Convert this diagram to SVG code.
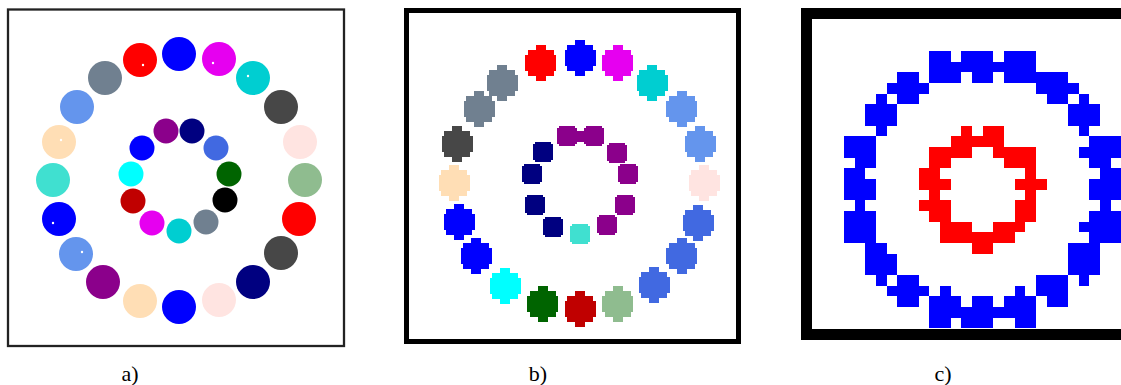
<svg xmlns="http://www.w3.org/2000/svg" xmlns:xlink="http://www.w3.org/1999/xlink" width="1121" height="385" viewBox="0 0 1121 385">
<style>
.lbl{font-family:"Liberation Serif","DejaVu Serif",serif;font-size:22px;fill:#000;text-anchor:middle}
.px{shape-rendering:crispEdges}
</style>
<defs>
<path id="ob" d="M-5.2,-18H5.2V-13H13V-8H15.5V8H13V13H5.2V18H-5.2V13H-13V8H-15.5V-8H-13V-13H-5.2Z"/>
<path id="ib" d="M-7.8,-10.3H7.8V-7.8H10.3V7.8H7.8V10.3H-7.8V7.8H-10.3V-7.8H-7.8Z"/>
</defs>
<rect width="1121" height="385" fill="#fff"/>

<!-- Panel a -->
<g id="panel-a">
<rect x="8" y="9.5" width="336" height="336.5" fill="#fff" stroke="#222" stroke-width="2.3"/>
<g id="a-outer">
<circle cx="179" cy="54" r="17" fill="#0000ff"/>
<circle cx="219" cy="59" r="17" fill="#e600f0"/>
<circle cx="253" cy="78" r="17" fill="#00ced1"/>
<circle cx="281" cy="107" r="17" fill="#474747"/>
<circle cx="300" cy="142" r="17" fill="#ffe4e1"/>
<circle cx="305" cy="180" r="17" fill="#8fbc8f"/>
<circle cx="299" cy="219" r="17" fill="#ff0000"/>
<circle cx="281" cy="253" r="17" fill="#474747"/>
<circle cx="253" cy="282" r="17" fill="#000080"/>
<circle cx="219" cy="300" r="17" fill="#ffe4e1"/>
<circle cx="179" cy="307" r="17" fill="#0000ff"/>
<circle cx="140" cy="301" r="17" fill="#ffdeb5"/>
<circle cx="103" cy="282" r="17" fill="#8b008b"/>
<circle cx="76" cy="254" r="17" fill="#6495ed"/>
<circle cx="59" cy="219" r="17" fill="#0000ff"/>
<circle cx="53" cy="180" r="17" fill="#40e0d0"/>
<circle cx="59" cy="142" r="17" fill="#ffdeb5"/>
<circle cx="77" cy="107" r="17" fill="#6495ed"/>
<circle cx="105" cy="78" r="17" fill="#708090"/>
<circle cx="140" cy="60" r="17" fill="#ff0000"/>
</g>
<g id="a-inner">
<circle cx="166" cy="131" r="12.5" fill="#8b008b"/>
<circle cx="192" cy="131" r="12.5" fill="#000080"/>
<circle cx="216" cy="148" r="12.5" fill="#4169e1"/>
<circle cx="229" cy="174" r="12.5" fill="#006400"/>
<circle cx="225" cy="200" r="12.5" fill="#000000"/>
<circle cx="206" cy="222" r="12.5" fill="#708090"/>
<circle cx="179" cy="231" r="12.5" fill="#00ced1"/>
<circle cx="152" cy="223" r="12.5" fill="#e600f0"/>
<circle cx="133" cy="201" r="12.5" fill="#c00000"/>
<circle cx="131" cy="174" r="12.5" fill="#00ffff"/>
<circle cx="142" cy="148" r="12.5" fill="#0000ff"/>
</g>
<g id="a-dots" fill="#fff">
<circle cx="143" cy="65" r="1.2"/>
<circle cx="213" cy="63" r="1.2"/>
<circle cx="248" cy="76" r="1.2"/>
<circle cx="61" cy="140" r="1.2"/>
<circle cx="53" cy="223" r="1.2"/>
<circle cx="82" cy="252" r="1.2"/>
</g>
</g>

<!-- Panel b -->
<g id="panel-b" class="px">
<rect x="406.5" y="10.5" width="331.5" height="331" fill="#fff" stroke="#000" stroke-width="5"/>
<g id="b-outer">
<use xlink:href="#ob" x="540.7" y="63" fill="#ff0000"/>
<use xlink:href="#ob" x="580" y="58" fill="#0000ff"/>
<use xlink:href="#ob" x="617.7" y="63" fill="#e600f0"/>
<use xlink:href="#ob" x="652" y="83" fill="#00ced1"/>
<use xlink:href="#ob" x="681.7" y="109" fill="#6495ed"/>
<use xlink:href="#ob" x="700" y="144" fill="#6495ed"/>
<use xlink:href="#ob" x="704" y="183" fill="#ffe4e1"/>
<use xlink:href="#ob" x="698" y="223" fill="#4169e1"/>
<use xlink:href="#ob" x="681.7" y="256" fill="#4169e1"/>
<use xlink:href="#ob" x="654" y="285" fill="#4169e1"/>
<use xlink:href="#ob" x="617.7" y="304" fill="#8fbc8f"/>
<use xlink:href="#ob" x="580" y="309" fill="#c00000"/>
<use xlink:href="#ob" x="542.7" y="304" fill="#006400"/>
<use xlink:href="#ob" x="505" y="286" fill="#00ffff"/>
<use xlink:href="#ob" x="476" y="256" fill="#0000ff"/>
<use xlink:href="#ob" x="459" y="222" fill="#0000ff"/>
<use xlink:href="#ob" x="454" y="183" fill="#ffdeb5"/>
<use xlink:href="#ob" x="457" y="144" fill="#474747"/>
<use xlink:href="#ob" x="479" y="109" fill="#708090"/>
<use xlink:href="#ob" x="502" y="83" fill="#708090"/>
</g>
<g id="b-inner">
<use xlink:href="#ib" x="567" y="136" fill="#8b008b"/>
<use xlink:href="#ib" x="594" y="136" fill="#8b008b"/>
<rect x="576" y="131" width="9" height="11" fill="#8b008b"/>
<use xlink:href="#ib" x="617" y="153" fill="#8b008b"/>
<use xlink:href="#ib" x="628" y="174" fill="#8b008b"/>
<use xlink:href="#ib" x="625" y="205" fill="#8b008b"/>
<use xlink:href="#ib" x="607" y="225" fill="#8b008b"/>
<use xlink:href="#ib" x="580" y="234" fill="#40e0d0"/>
<use xlink:href="#ib" x="553" y="227" fill="#000080"/>
<use xlink:href="#ib" x="535" y="205" fill="#000080"/>
<use xlink:href="#ib" x="532" y="174" fill="#000080"/>
<use xlink:href="#ib" x="543" y="152" fill="#000080"/>
</g>
</g>

<!-- Panel c -->
<g id="panel-c" class="px">
<rect x="806.5" y="13.5" width="500" height="320.5" fill="#fff" stroke="#000" stroke-width="11"/>
<g transform="translate(844,51) scale(10.667)">
<path id="c-outer" fill="#0000ff" d="M8 0h2v1h-2z M11 0h3v1h-3z M15 0h3v1h-3z
M8 1h10v1h-10z
M5 2h2v1h-2z M8 2h3v1h-3z M12 2h2v1h-2z M15 2h6v1h-6z
M4 3h4v1h-4z M18 3h4v1h-4z
M3 4h1v1h-1z M5 4h2v1h-2z M19 4h2v1h-2z M22 4h1v1h-1z
M2 5h3v1h-3z M21 5h3v1h-3z
M2 6h3v1h-3z M21 6h3v1h-3z
M3 7h1v1h-1z M22 7h1v1h-1z
M0 8h3v1h-3z M23 8h3v1h-3z
M0 9h3v1h-3z M22 9h4v1h-4z
M1 10h2v1h-2z M23 10h2v1h-2z
M0 11h2v1h-2z M24 11h2v1h-2z
M0 12h3v1h-3z M23 12h3v1h-3z
M0 13h3v1h-3z M23 13h3v1h-3z
M1 14h1v1h-1z M24 14h1v1h-1z
M0 15h3v1h-3z M23 15h3v1h-3z
M0 16h3v1h-3z M22 16h4v1h-4z
M0 17h3v1h-3z M23 17h3v1h-3z
M2 18h2v1h-2z M21 18h3v1h-3z
M2 19h3v1h-3z M21 19h3v1h-3z
M2 20h3v1h-3z M21 20h3v1h-3z
M3 21h1v1h-1z M5 21h2v1h-2z M18 21h3v1h-3z M22 21h1v1h-1z
M4 22h4v1h-4z M9 22h1v1h-1z M16 22h1v1h-1z M18 22h3v1h-3z
M5 23h2v1h-2z M8 23h3v1h-3z M12 23h2v1h-2z M15 23h3v1h-3z M19 23h2v1h-2z
M8 24h10v1h-10z
M8 25h2v1h-2z M11 25h3v1h-3z M16 25h2v1h-2z"/>
<path id="c-inner" fill="#ff0000" d="M11 7h1v1h-1z M13 7h2v1h-2z
M10 8h5v1h-5z
M8 9h4v1h-4z M14 9h4v1h-4z
M8 10h2v1h-2z M15 10h3v1h-3z
M7 11h2v1h-2z M17 11h1v1h-1z
M7 12h3v1h-3z M16 12h3v1h-3z
M8 13h1v1h-1z M17 13h1v1h-1z
M7 14h3v1h-3z M16 14h2v1h-2z
M8 15h2v1h-2z M16 15h2v1h-2z
M9 16h3v1h-3z M14 16h3v1h-3z
M9 17h7v1h-7z
M12 18h2v1h-2z"/>
</g>
</g>

<g id="labels">
<text class="lbl" x="130" y="381">a)</text>
<text class="lbl" x="538" y="381">b)</text>
<text class="lbl" x="943" y="381">c)</text>
</g>
</svg>
